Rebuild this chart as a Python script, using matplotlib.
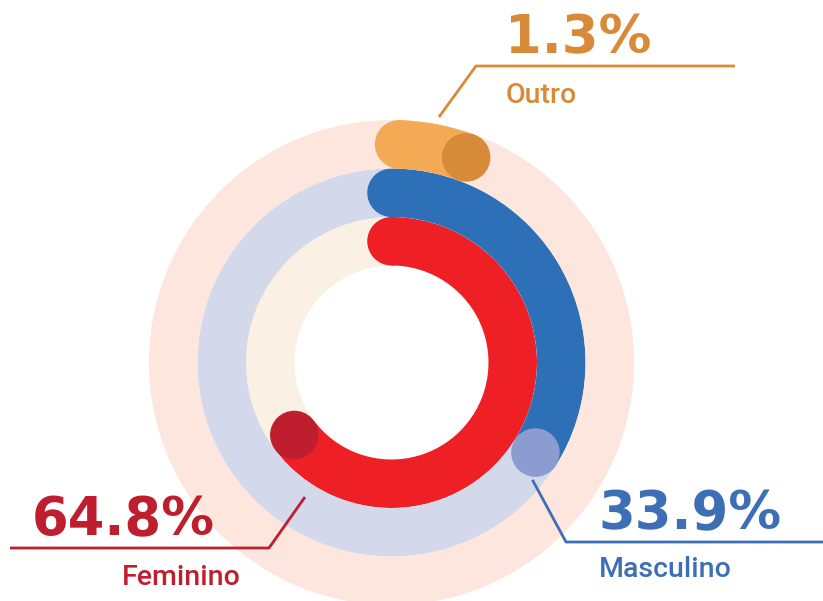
import numpy as np
import matplotlib
matplotlib.use('Agg')
import matplotlib.pyplot as plt
from matplotlib.patches import Wedge, Circle

# data (inner ring -> outer ring)
categories = ['Feminino', 'Masculino', 'Outro']
percent = [64.8, 33.9, 1.3]
pct_labels = ['64.8%', '33.9%', '1.3%']

arc_colors = ['#EE1F25', '#2E70B7', '#F4A955']
dot_colors = ['#BE1E2D', '#8C9BD0', '#D78B38']
track_colors = ['#FAF0E4', '#D3D8EA', '#FCE6DD']
text_colors = ['#BE1E2D', '#3D6FB6', '#D88A38']

CX, CY = 391.5, 362.5
R_IN = 97.0
BAND = 48.5
MIN_SWEEP = 20.0   # very small shares get a visible minimum arc

fig = plt.figure(figsize=(8.23, 6.01), dpi=100)
ax = fig.add_axes([0, 0, 1, 1])
ax.set_xlim(0, 823)
ax.set_ylim(601, 0)
ax.set_aspect('equal')
ax.axis('off')

ends = []
for i, (val, ac, dc, tc) in enumerate(zip(percent, arc_colors, dot_colors, track_colors)):
    r_outer = R_IN + BAND * (i + 1)
    r_mid = r_outer - BAND / 2
    # background track
    ax.add_patch(Wedge((CX, CY), r_outer, 0, 360, width=BAND, color=tc, lw=0))
    # arc, clockwise from the top (y axis inverted)
    start = 2.0 if val * 3.6 < MIN_SWEEP else 0.0
    sweep = max(val * 3.6, MIN_SWEEP - start)
    th0 = -90 + start
    th1 = th0 + sweep
    ax.add_patch(Wedge((CX, CY), r_outer, th0, th1, width=BAND, color=ac, lw=0))
    t0 = np.deg2rad(th0)
    ax.add_patch(Circle((CX + r_mid * np.cos(t0), CY + r_mid * np.sin(t0)), BAND / 2, color=ac, lw=0))
    t1 = np.deg2rad(th1)
    ex, ey = CX + r_mid * np.cos(t1), CY + r_mid * np.sin(t1)
    ax.add_patch(Circle((ex, ey), BAND / 2, color=dc, lw=0, zorder=3))
    ends.append((ex, ey))

big = dict(fontsize=38, fontweight='bold', family='DejaVu Sans', va='baseline')
small = dict(fontsize=20.5, fontweight='medium', family='Roboto', va='baseline')

# Feminino (bottom left)
ax.plot([10, 269, 305], [548, 548, 497], color=text_colors[0], lw=2, solid_capstyle='butt')
ax.text(32, 535, pct_labels[0], color=text_colors[0], **big)
ax.text(122, 585, categories[0], color=text_colors[0], **small)

# Masculino (bottom right)
bx, by = ends[1]
ax.plot([bx - 3, 566, 823], [by + BAND / 2 + 3, 542, 542], color=text_colors[1], lw=2,
        solid_capstyle='butt')
ax.text(598, 529, pct_labels[1], color=text_colors[1], **big)
ax.text(599, 577, categories[1], color=text_colors[1], **small)

# Outro (top)
ax.plot([439, 476, 735], [117, 66, 66], color=text_colors[2], lw=2, solid_capstyle='butt')
ax.text(505, 53, pct_labels[2], color=text_colors[2], **big)
ax.text(506, 103, categories[2], color=text_colors[2], **small)

fig.savefig('out.png', dpi=100, facecolor='white')
